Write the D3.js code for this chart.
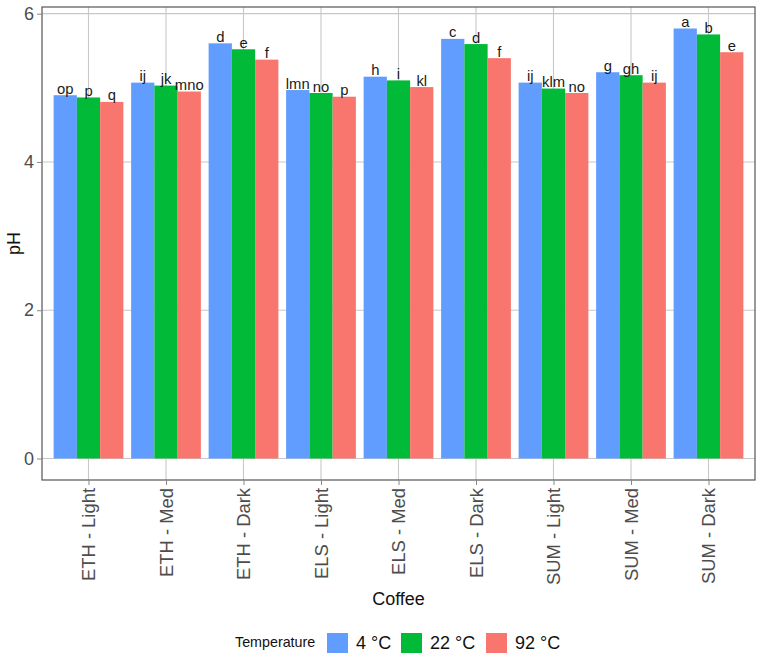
<!DOCTYPE html>
<html><head><meta charset="utf-8">
<script src="https://cdn.jsdelivr.net/npm/d3@7"></script>
<style>body{margin:0;background:#fff;}svg{display:block;font-family:"Liberation Sans",Arial,sans-serif;}</style>
</head><body>
<svg id="c" width="762" height="656"></svg>
<script>
const categories = ["ETH - Light","ETH - Med","ETH - Dark","ELS - Light","ELS - Med","ELS - Dark","SUM - Light","SUM - Med","SUM - Dark"];
const temps = ["4 °C","22 °C","92 °C"];
const ph4 = [4.90,5.07,5.60,4.97,5.15,5.66,5.07,5.21,5.80];
const ph22 = [4.87,5.03,5.52,4.93,5.10,5.59,4.99,5.17,5.72];
const ph92 = [4.81,4.95,5.38,4.88,5.01,5.40,4.93,5.07,5.48];
const let4 = ["op","ij","d","lmn","h","c","ij","g","a"];
const let22 = ["p","jk","e","no","i","d","klm","gh","b"];
const let92 = ["q","mno","f","p","kl","f","no","ij","e"];
const yTicks = [0,2,4,6];
const colors = ["#619CFF","#00BA38","#F8766D"];

const vals = [ph4, ph22, ph92];
const lets = [let4, let22, let92];
const data = [];
categories.forEach((c,i)=>temps.forEach((t,j)=>data.push({c, t, v: vals[j][i], l: lets[j][i], j})));

const svg = d3.select("#c");
const L = 42, R = 755, T = 7, B = 480;
const step = (R-L)/(categories.length-1+1.2);
const xc = d3.scalePoint().domain(categories).range([L+0.6*step, R-0.6*step]);
const xs = d3.scaleBand().domain(temps).range([-0.45*step, 0.45*step]).padding(0);
const y = d3.scaleLinear().domain([-0.29, 6.09]).range([B, T]);

// grid
const g = svg.append("g");
g.selectAll(".hg").data(yTicks).join("line").attr("x1",L).attr("x2",R)
  .attr("y1",d=>y(d)).attr("y2",d=>y(d)).attr("stroke","#c8c8c8").attr("stroke-width",1.1);
g.selectAll(".vg").data(categories).join("line").attr("y1",T).attr("y2",B)
  .attr("x1",d=>xc(d)).attr("x2",d=>xc(d)).attr("stroke","#c8c8c8").attr("stroke-width",1.1);

// bars
svg.append("g").selectAll("rect").data(data).join("rect")
  .attr("x",d=>xc(d.c)+xs(d.t)).attr("width",xs.bandwidth())
  .attr("y",d=>y(d.v)).attr("height",d=>y(0)-y(d.v)).attr("fill",d=>colors[d.j]);

// letters
svg.append("g").selectAll("text").data(data).join("text")
  .attr("x",d=>xc(d.c)+xs(d.t)+xs.bandwidth()/2).attr("y",d=>y(d.v)-1.5)
  .attr("text-anchor","middle").attr("font-size",14.8).attr("fill","#1a1a1a").text(d=>d.l);

// border
svg.append("rect").attr("x",L).attr("y",T).attr("width",R-L).attr("height",B-T)
  .attr("fill","none").attr("stroke","#555").attr("stroke-width",1.2);

// y axis
const ya = svg.append("g").attr("transform",`translate(${L},0)`)
  .call(d3.axisLeft(y).tickValues(yTicks).tickSize(5).tickPadding(3).tickFormat(d3.format("d")));
ya.select(".domain").remove();
ya.selectAll("line").attr("stroke","#888");
ya.selectAll("text").attr("font-size",18).attr("fill","#4d4d4d").attr("font-family",null);

// x axis
const xa = svg.append("g").attr("transform",`translate(0,${B})`)
  .call(d3.axisBottom(xc).tickSize(5).tickPadding(3));
xa.select(".domain").remove();
xa.selectAll("line").attr("stroke","#888");
xa.selectAll("text").attr("font-size",18.4).attr("fill","#4d4d4d").attr("font-family",null)
  .attr("transform","rotate(-90)").attr("text-anchor","end").attr("dy","0.35em")
  .attr("x",-8).attr("y",0);

// axis titles
svg.append("text").attr("x",(L+R)/2).attr("y",605).attr("text-anchor","middle")
  .attr("font-size",18).attr("fill","#111").text("Coffee");
svg.append("text").attr("transform",`translate(20,${(T+B)/2}) rotate(-90)`).attr("text-anchor","middle")
  .attr("font-size",18).attr("fill","#111").text("pH");

// legend
const lg = svg.append("g");
lg.append("text").attr("x",235).attr("y",647).attr("font-size",14.3).attr("fill","#111").text("Temperature");
const kx = [327, 401, 486];
temps.forEach((t,j)=>{
  lg.append("rect").attr("x",kx[j]).attr("y",633).attr("width",21).attr("height",20).attr("fill",colors[j]);
  lg.append("text").attr("x",kx[j]+29).attr("y",648.5).attr("font-size",18).attr("fill","#111").text(t);
});
</script>
</body></html>
